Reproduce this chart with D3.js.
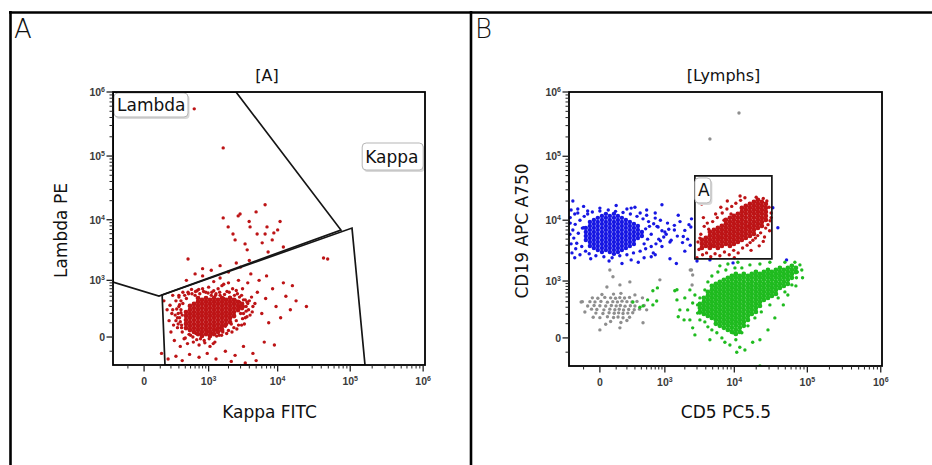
<!DOCTYPE html>
<html><head><meta charset="utf-8">
<script src="https://cdn.jsdelivr.net/npm/d3@7"></script>
<style>body{margin:0;background:#fff}svg{display:block}</style>
</head><body>
<svg id="c" width="932" height="465"></svg>
<script>
// ---------------- DATA ----------------
const majorTicks = [0, 1e3, 1e4, 1e5, 1e6];
const tickBase = ["0", "10", "10", "10", "10"];
const tickExp = ["", "3", "4", "5", "6"];
const linearMinor = [-100, 100, 200, 300, 400, 500, 600, 700, 800, 900];
const decadeMultipliers = [2, 3, 4, 5, 6, 7, 8, 9];
const decades = [1e3, 1e4, 1e5];

// Panel A: Kappa FITC (x) vs Lambda PE (y), gated [A]
const redACoreCols = [
 [413,[218,170,126,90,57]],
 [488,[307,246,193,148,107,73,43]],
 [574,[341,275,218,169,126,89,57,30]],
 [672,[459,378,307,246,193,147,107,73,43,17]],
 [782,[417,341,275,218,169,126,89,57,30,6]],
 [908,[459,378,307,246,193,147,107,73,43,17]],
 [1050,[417,341,275,218,169,126,89,57,30,6]],
 [1212,[459,378,307,246,193,147,107,73,43,17]],
 [1395,[417,341,275,218,169,126,89,57,30]],
 [1604,[459,378,307,246,193,147,107,73,43]],
 [1840,[417,341,275,218,169,126,89]],
 [2106,[459,378,307,246,193,147,107]],
 [2410,[417,341,275,218,169]],
 [2754,[378,307,246]],
 [3146,[341,275]]
];
const redAMid = [
 [200,30],[220,250],[240,-20],[260,400],[280,150],[300,520],[320,-60],[340,80],[360,600],[380,-10],
 [420,450],[440,-40],[460,560],[500,10],[520,680],[560,-30],[600,520],[620,20],[650,640],[700,-50],
 [720,560],[760,15],[800,700],[850,-20],[900,600],[950,30],[1000,750],[1050,-60],[1100,520],[1150,20],
 [1200,640],[1250,-30],[1300,560],[1350,40],[1400,700],[1450,10],[1500,520],[1550,60],[1600,800],[1650,30],
 [1700,450],[1800,70],[1900,620],[2000,40],[2100,480],[2200,90],[2300,700],[2400,60],[2500,420],[2600,120],
 [2700,560],[2800,80],[2900,380],[3000,200],[3100,520],[3200,140],[3300,300],[3400,90],[3500,420],[3600,230],
 [3700,160],[3800,350],[3900,250],[4100,180],[4300,480],[4500,300],[180,120],[190,320],[210,200],[230,80],
 [250,180],[270,260],[290,90],[310,330],[330,210],[1700,850],[2000,900],[1200,950],[2600,650],[3200,700],
 [330,400],[350,30],[390,520],[400,-5],[450,600],[470,15],[530,560],[550,0],[610,620],[640,-15],
 [690,680],[740,-10],[830,620],[870,-35],[980,580],[1020,-10],[1120,600],[1180,-40],[1280,520],[1330,5],
 [1480,600],[1580,10],[1750,540],[1880,20],[2050,600],[2250,30],[2450,520],[2650,50],[2900,480],[3100,80],
 [3300,420],[3500,150],[3700,380],[2800,250],[2950,300],[3300,200],[3600,300],[4000,400],[4400,220],[4800,350],
 [310,150],[330,250],[350,180],[300,300],[290,200],[320,110],[340,60],[360,350],[280,60],[260,120]
];
const redASparse = [
 [110,-120],[130,400],[160,250],[170,-180],[220,520],[260,-150],[300,480],[350,-200],[420,1000],[480,-130],
 [600,1300],[700,-160],[800,1200],[950,-120],[1100,1500],[1300,-180],[1500,1100],[1800,-100],[2000,1400],[2500,-140],
 [2800,1000],[3300,-60],[3800,900],[4500,-120],[5200,600],[6000,200],[6800,450],[7500,100],[8500,700],[9500,300],
 [11000,150],[13000,500],[15000,250],[18000,400],[5500,1000],[4200,1300],[6500,-30],[3000,1700],[1500,1800],[800,1600],
 [5000,-200],[2200,-210],[12000,900],[9000,-50],[7000,1200],[2600,2000],[4000,2200],[25000,300],[16000,800],[3500,-230]
];
const redAUpper = [
 [450,2320],[1670,134000],[580,546000],[2770,11500],[1980,7700],[2330,5940],[4100,7700],[3480,4110],[7100,7700],
 [8850,6170],[10000,6900],[5160,5940],[6680,5940],[8400,4770],[7360,3040],[2950,12300],[4990,13300],[6680,17200],
 [10800,9400],[6080,4270],[1670,10700],[3980,9400],[2500,4770],[12000,3670],[3730,3290],[43000,2420],[49000,2320]
];
const lambdaGate = [[-250,932],[90,505],[74600,6860],[2576,1e6],[-250,1e6]];
const kappaGate = [[115,530],[105800,7380],[159500,-260],[140,-260]];

// Panel B: CD5 PC5.5 (x) vs CD19 APC A750 (y), [Lymphs]
const grayPts = [
 [-40,480],[-10,470],[25,490],[60,480],[95,470],[130,485],[175,475],[230,490],
 [-55,400],[-25,395],[5,405],[40,390],[75,400],[110,395],[150,410],[200,400],[260,395],[330,405],
 [-30,330],[0,325],[30,320],[65,330],[100,322],[135,328],[180,318],[240,325],[300,320],
 [-45,270],[-15,265],[20,260],[55,270],[90,262],[125,268],[165,258],[220,265],[290,262],[370,270],
 [-20,215],[15,210],[50,220],[85,212],[120,218],[160,210],[210,215],[270,220],
 [-35,165],[0,160],[40,170],[80,162],[115,168],[160,158],[230,165],
 [10,560],[80,570],[140,590],[300,550],[420,480],[450,330],[500,260],[-70,320],[-90,230],[-110,400],
 [60,120],[140,110],[30,95],[200,130],
 [55,1560],[76,1190],[131,851],[234,964],[37,780],[-120,394],[834,1050],[2500,1560],[2600,1280],
 [131,65],[430,108],[0,50],[2400,1560],[2550,850],
 [11600,472000],[4570,186000]
];
const blueCoreCols = [
 [-83,[7550,6520,5630,4860]],
 [-55,[9390,8120,7020,6060,5230,4510,3890]],
 [-31,[10100,8740,7550,6520,5630,4860,4190,3610]],
 [-10,[10900,9390,8120,7020,6060,5230,4510,3890,3350]],
 [10,[11700,10100,8740,7550,6520,5630,4860,4190,3610,3110]],
 [31,[12600,10900,9390,8120,7020,6060,5230,4510,3890,3350]],
 [55,[11700,10100,8740,7550,6520,5630,4860,4190,3610,3110]],
 [83,[12600,10900,9390,8120,7020,6060,5230,4510,3890,3350,2890]],
 [114,[11700,10100,8740,7550,6520,5630,4860,4190,3610,3110]],
 [149,[10900,9390,8120,7020,6060,5230,4510,3890,3350]],
 [189,[10100,8740,7550,6520,5630,4860,4190,3610]],
 [234,[9390,8120,7020,6060,5230,4510,3890]],
 [286,[8740,7550,6520,5630,4860,4190]],
 [344,[8120,7020,6060,5230]],
 [410,[6520,5630]]
];
const blueHalo = [
 [-200,7000],[-190,5200],[-175,8600],[-160,4300],[-145,6200],[-130,10000],[-115,3800],[-100,7600],[-95,11500],[-85,3200],
 [-70,12500],[-60,2900],[-40,13500],[-20,2700],[0,14000],[20,2600],[45,14500],[70,2500],[95,13800],[130,2700],
 [160,13200],[200,2800],[240,12500],[280,3000],[330,11500],[380,3200],[430,10500],[480,3500],[540,9500],[600,3800],
 [660,8800],[720,4200],[780,7800],[850,4700],[900,6800],[960,5400],[1050,6000],[1150,7200],[1250,4800],[1400,8300],
 [1550,5600],[1700,9500],[1850,4400],[2000,6900],[2200,5000],[2450,7800],[500,12000],[600,6000],[700,10800],[480,7300],
 [520,5000],[560,8000],[450,4200],[380,13000],[250,15500],[-150,13000],[-210,3000],[-230,11000],[-220,14500],[-180,2500],
 [-234,6000],[-230,9000],[-220,4200],[-200,20000],[-180,12500],[-170,3500],[-150,15000],[-130,2800],[-110,7500],[-100,16500],
 [650,3000],[700,13000],[750,8000],[800,5000],[850,10000],[900,3800],[1000,6500],[1100,9000],[1200,4500],[1400,7000],
 [1600,12000],[1900,5500],[2300,8500],[2400,4000],[2500,10500],[-50,2400],[50,2200],[150,2000],[250,2300],[350,2100],
 [450,2500],[100,17000],[200,15000],[300,16000],[0,15500],[-70,14000],[500,14500],[600,2600],[700,2800],[1200,2400],
 [4570,2300],[9600,2050],[39600,7600],[52000,2300],[33800,15700],[3000,2200],[2000,3200],[1500,2000],[900,17500]
];
const greenCoreCols = [
 [3300,[357,289,231]],
 [3760,[478,394,322,259,204]],
 [4280,[629,525,435,357,289,231,180]],
 [4870,[816,687,575,478,394,322,259,204,157]],
 [5540,[887,749,629,525,435,357,289,231,180,136,98]],
 [6300,[964,816,687,575,478,394,322,259,204,157,116,81]],
 [7170,[1050,887,749,629,525,435,357,289,231,180,136,98,65]],
 [8150,[1140,964,816,687,575,478,394,322,259,204,157,116,81,50]],
 [9250,[1230,1050,887,749,629,525,435,357,289,231,180,136,98,65,36]],
 [10500,[1330,1140,964,816,687,575,478,394,322,259,204,157,116,81,50,23]],
 [11900,[1230,1050,887,749,629,525,435,357,289,231,180,136,98,65,36]],
 [13500,[1330,1140,964,816,687,575,478,394,322,259,204,157,116,81]],
 [15400,[1230,1050,887,749,629,525,435,357,289,231,180,136]],
 [17400,[1330,1140,964,816,687,575,478,394,322,259,204]],
 [19800,[1440,1230,1050,887,749,629,525,435,357,289,231]],
 [22500,[1330,1140,964,816,687,575,478,394,322]],
 [25500,[1440,1230,1050,887,749,629,525,435]],
 [29000,[1560,1330,1140,964,816,687,575,478]],
 [32800,[1440,1230,1050,887,749,629,525]],
 [37200,[1560,1330,1140,964,816,687,575]],
 [42200,[1690,1440,1230,1050,887,749]],
 [47800,[1560,1330,1140,964,816]],
 [54200,[1690,1440,1230,1050,887]],
 [61500,[1830,1560,1330,1140]],
 [69800,[1690,1440]]
];
const greenHalo = [
 [272,394],[430,322],[520,435],[640,660],[740,414],[760,749],[640,339],[376,300],[1420,660],[1530,435],
 [1690,259],[2370,136],[2600,65],[1530,690],[1600,170],[2600,375],[3060,215],[3300,136],[4280,73],[5720,30],
 [9600,30],[17900,-25],[6300,1830],[10200,1690],[16400,1900],[22500,1970],[30800,2100],[49400,2100],[67600,2100],[79200,1900],
 [73000,1440],[71000,1140],[61500,851],[49400,629],[40000,478],[30800,339],[23500,231],[19200,157],[15400,81],[12700,30],
 [10500,-10],[11900,-60],[8690,-43],[6720,0],[4870,50],[3880,116],[3300,215],[3060,339],[3300,478],[3880,687],
 [4280,964],[4870,1230],[5910,1440],[7640,1560],[12700,1690],[8150,1970],[11200,2100],[2800,549],[2370,687],[2000,478],
 [2200,259],[1950,136],[2800,17],[4570,-10],[7400,-25],[14000,-81],[10800,-100],[22500,-10],[29000,50],[36000,157],
 [47000,339],[54200,549],[69800,816],[84000,1560],[86000,1140],[22500,-260]
];
const redBCoreCols = [
 [3520,[4860,4190,3610]],
 [4010,[5230,4510,3890]],
 [4570,[6520,5630,4860,4190,3610]],
 [5200,[7020,6060,5230,4510,3890]],
 [5910,[7550,6520,5630,4860,4190,3610]],
 [6720,[8120,7020,6060,5230,4510,3890]],
 [7640,[10100,8740,7550,6520,5630,4860,4190]],
 [8690,[10900,9390,8120,7020,6060,5230,4510,3890]],
 [9860,[11700,10100,8740,7550,6520,5630,4860,4190]],
 [11200,[12600,10900,9390,8120,7020,6060,5230,4510]],
 [12700,[15600,13500,11700,10100,8740,7550,6520,5630,4860]],
 [14400,[16800,14500,12600,10900,9390,8120,7020,6060,5230]],
 [16400,[18000,15600,13500,11700,10100,8740,7550,6520,5630]],
 [18600,[19400,16800,14500,12600,10900,9390,8120,7020,6060]],
 [21100,[20800,18000,15600,13500,11700,10100,8740,7550]],
 [23900,[19400,16800,14500,12600,10900,9390,8120]],
 [27100,[18000,15600,13500,11700,10100]]
];
const redBHalo = [
 [3000,2500],[3200,3400],[3400,6000],[3600,2800],[3800,8000],[4100,3000],[4400,7200],[4700,2600],[5000,9500],[5400,2900],
 [5800,11000],[6300,2700],[6800,13000],[7300,3100],[7900,15000],[8500,2800],[9200,16500],[9800,3300],[10500,18500],[11300,3000],
 [12200,20500],[13000,3600],[14000,22500],[15000,4000],[16500,4400],[18000,4800],[19500,5200],[21000,5700],[23000,6300],[25000,4600],
 [27000,7500],[29000,8500],[31000,9800],[32000,13000],[30000,16000],[28000,20000],[25000,22000],[3100,4500],[3300,5200],[4200,9000],
 [5500,12500],[6500,16000],[3700,11000],[8000,20000],[3500,18000],[10000,2500],[17000,3300],[22000,3900],[26000,5400],[30500,6800],
 [3200,20000],[32000,11000],[20000,23000],[12000,24000],[4800,4000],[6000,5200],[7200,10000],[9000,12500],[15500,8000],[24000,10500]
];
const gateARect = [[2797,2390],[32800,2390],[32800,49400],[2797,49400]];

const colors = {red:"#bd1416", blue:"#1717e3", green:"#1fbb1f", gray:"#8e8e8e"};

// ---------------- DRAW ----------------
const svg = d3.select("#c");
const cols = c => c.flatMap(([x, ys]) => ys.map(y => [x, y]));
const minorTicks = linearMinor.concat(decades.flatMap(d => decadeMultipliers.map(m => m * d)));
const R_HALO = 1.7, R_CORE = 2.4;

const panels = [
 {letter:"A", letterX:14, left:113, right:425, top:92, bottom:365, xDom:[-250,1.06e6], yDom:[-260,1e6],
  title:"[A]", xLabel:"Kappa FITC", yLabel:"Lambda PE", yLabelX:67,
  pops:[[redAMid.concat(redASparse, redAUpper), colors.red, R_HALO],[cols(redACoreCols), colors.red, R_CORE]],
  gates:[lambdaGate, kappaGate],
  labels:[{text:"Lambda", at:[-250,1e6], dx:1, dy:1, w:74, h:24},
          {text:"Kappa", at:[146000,159800], dx:0, dy:0, w:61, h:27}]},
 {letter:"B", letterX:475, left:569, right:882, top:92, bottom:366, xDom:[-245,1.04e6], yDom:[-260,1e6],
  title:"[Lymphs]", xLabel:"CD5 PC5.5", yLabel:"CD19 APC A750", yLabelX:528,
  pops:[[grayPts, colors.gray, R_HALO],
        [blueHalo, colors.blue, R_HALO],[cols(blueCoreCols), colors.blue, R_CORE - 0.2],
        [greenHalo, colors.green, R_HALO],[cols(greenCoreCols), colors.green, R_CORE],
        [redBHalo, colors.red, R_HALO],[cols(redBCoreCols), colors.red, R_CORE]],
  gates:[gateARect],
  labels:[{text:"A", at:[2797,49400], dx:0, dy:2, w:16, h:25}]}
];

// frame
svg.append("line").attr("x1",9).attr("x2",932).attr("y1",12.5).attr("y2",12.5).attr("stroke","#000").attr("stroke-width",2.6);
[10.5, 471].forEach(x => svg.append("line").attr("x1",x).attr("x2",x).attr("y1",11).attr("y2",465).attr("stroke","#000").attr("stroke-width",2.6));

const FONT = "'DejaVu Sans', Verdana, sans-serif";

panels.forEach((p, i) => {
  const x = d3.scaleSymlog().constant(150).domain(p.xDom).range([p.left, p.right]);
  const y = d3.scaleSymlog().constant(150).domain(p.yDom).range([p.bottom, p.top]);
  const g = svg.append("g");

  g.append("text").attr("x", p.letterX).attr("y", 38).text(p.letter)
   .attr("font-family", "'DejaVu Sans', sans-serif").attr("font-weight", 200).attr("font-size", 26).attr("fill", "#111");

  g.append("text").attr("x", (p.left + p.right) / 2 - 2).attr("y", 81).attr("text-anchor", "middle")
   .attr("font-family", FONT).attr("font-size", 16).attr("fill", "#111").text(p.title);

  g.append("text").attr("x", (p.left + p.right) / 2 + 0.5).attr("y", 418).attr("text-anchor", "middle")
   .attr("font-family", FONT).attr("font-size", 17).attr("fill", "#111").text(p.xLabel);

  g.append("text").attr("transform", `translate(${p.yLabelX},${(p.top + p.bottom) / 2 + 2}) rotate(-90)`)
   .attr("text-anchor", "middle").attr("font-family", FONT).attr("font-size", 17).attr("fill", "#111").text(p.yLabel);

  const cid = "clip" + i;
  svg.append("clipPath").attr("id", cid).append("rect")
    .attr("x", p.left).attr("y", p.top).attr("width", p.right - p.left).attr("height", p.bottom - p.top);

  const pg = g.append("g").attr("clip-path", `url(#${cid})`);
  p.pops.forEach(([pts, color, r]) => {
    pg.append("g").selectAll("circle").data(pts).join("circle")
      .attr("cx", d => x(d[0])).attr("cy", d => y(d[1])).attr("r", r).attr("fill", color);
  });

  const line = d3.line().x(d => x(d[0])).y(d => y(d[1]));
  p.gates.forEach(gt => {
    pg.append("path").attr("d", line(gt) + "Z").attr("fill", "none").attr("stroke", "#151515").attr("stroke-width", 1.7);
  });

  p.labels.forEach(l => {
    const lx = x(l.at[0]) + l.dx, ly = y(l.at[1]) + l.dy;
    g.append("rect").attr("x", lx + 1.5).attr("y", ly + 2).attr("width", l.w).attr("height", l.h).attr("rx", 4)
      .attr("fill", "#d8d8d8");
    g.append("rect").attr("x", lx).attr("y", ly).attr("width", l.w).attr("height", l.h).attr("rx", 4)
      .attr("fill", "#fff").attr("stroke", "#b5b5b5").attr("stroke-width", 1);
    g.append("text").attr("x", lx + 3).attr("y", ly + l.h / 2 + 6).attr("font-family", FONT)
      .attr("font-size", 17).attr("fill", "#111").text(l.text);
  });

  // box
  g.append("rect").attr("x", p.left).attr("y", p.top).attr("width", p.right - p.left).attr("height", p.bottom - p.top)
   .attr("fill", "none").attr("stroke", "#000").attr("stroke-width", 1.8);

  // ticks
  const ax = g.append("g").attr("stroke", "#222").attr("stroke-width", 1.3);
  majorTicks.forEach(v => {
    ax.append("line").attr("x1", x(v)).attr("x2", x(v)).attr("y1", p.bottom).attr("y2", p.bottom + 6.5);
    ax.append("line").attr("y1", y(v)).attr("y2", y(v)).attr("x1", p.left).attr("x2", p.left - 6.5);
  });
  minorTicks.forEach(v => {
    ax.append("line").attr("x1", x(v)).attr("x2", x(v)).attr("y1", p.bottom).attr("y2", p.bottom + 3.5).attr("stroke-width", 1);
    ax.append("line").attr("y1", y(v)).attr("y2", y(v)).attr("x1", p.left).attr("x2", p.left - 3.5).attr("stroke-width", 1);
  });
  const lab = (sel, v, k) => {
    sel.append("tspan").text(tickBase[k]);
    if (tickExp[k]) sel.append("tspan").attr("dy", -4).attr("font-size", 7).text(tickExp[k]);
  };
  majorTicks.forEach((v, k) => {
    const t = g.append("text").attr("x", x(v)).attr("y", p.bottom + 19.5).attr("text-anchor", "middle")
      .attr("font-family", "'Liberation Sans', Arial, sans-serif").attr("font-weight", "bold")
      .attr("font-size", 10.5).attr("fill", "#3a3a3a");
    lab(t, v, k);
    const t2 = g.append("text").attr("x", p.left - 8).attr("y", y(v) + 4).attr("text-anchor", "end")
      .attr("font-family", "'Liberation Sans', Arial, sans-serif").attr("font-weight", "bold")
      .attr("font-size", 10.5).attr("fill", "#3a3a3a");
    lab(t2, v, k);
  });
});
</script>
</body></html>
